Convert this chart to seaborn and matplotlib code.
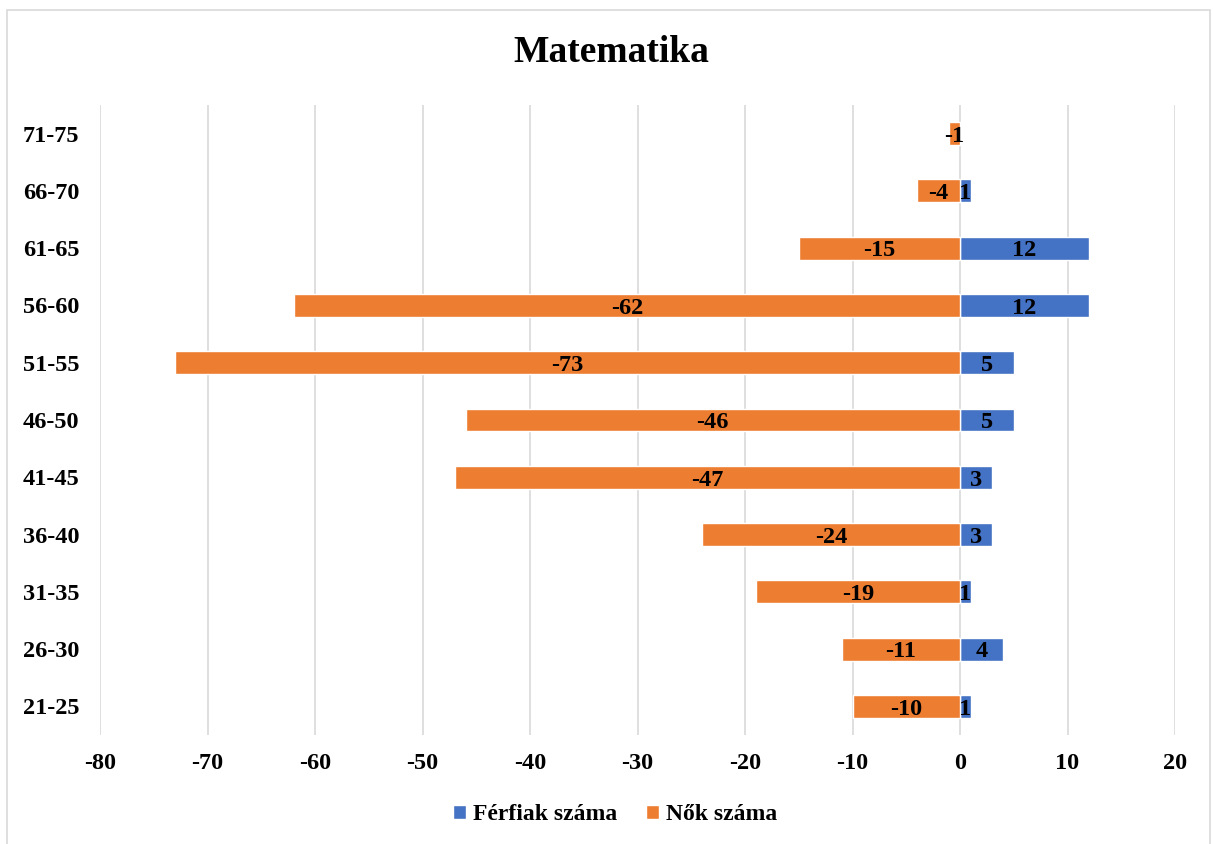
import matplotlib
matplotlib.use("Agg")
import matplotlib.pyplot as plt
from matplotlib.patches import Patch, Rectangle
import seaborn as sns
import pandas as pd

# korcsoportok alulrol felfele
korcsoport = ["21-25", "26-30", "31-35", "36-40", "41-45", "46-50",
              "51-55", "56-60", "61-65", "66-70", "71-75"]
ferfiak = [1, 4, 1, 3, 3, 5, 5, 12, 12, 1, 0]
nok = [-10, -11, -19, -24, -47, -46, -73, -62, -15, -4, -1]

series_names = ["Férfiak száma", "Nők száma"]
colors = ["#4472C4", "#ED7D31"]

df = pd.concat([
    pd.DataFrame({"kor": korcsoport, "ertek": ferfiak, "sorozat": series_names[0]}),
    pd.DataFrame({"kor": korcsoport, "ertek": nok, "sorozat": series_names[1]}),
])

sns.set_style("white")
plt.rcParams["font.family"] = ["Liberation Serif", "DejaVu Serif"]
plt.rcParams["font.weight"] = "bold"
plt.rcParams["axes.unicode_minus"] = False
plt.rcParams["text.color"] = "black"
plt.rcParams["xtick.color"] = "black"
plt.rcParams["ytick.color"] = "black"

fig = plt.figure(figsize=(12.13, 8.44), dpi=100)
ax = fig.add_axes([100 / 1213, 1 - 735 / 844, 1075 / 1213, 630 / 844])

sns.barplot(data=df, y="kor", x="ertek", hue="sorozat", order=korcsoport[::-1],
            hue_order=series_names, palette=colors, dodge=False, width=0.4,
            orient="h", saturation=1, ax=ax, legend=False, zorder=3)

for cont, vals in zip(ax.containers, [ferfiak, nok]):
    labels = [str(v) if v != 0 else "" for v in vals[::-1]]
    texts = ax.bar_label(cont, labels=labels, label_type="center", fontsize=17.5,
                         fontweight="bold", color="black")
    # Excel-szeru, kicsit lejjebb ulo feliratok
    for t in texts:
        t.xyann = (t.xyann[0], -2)

ax.set_xlim(-80, 20)
ax.set_xticks(range(-80, 21, 10))
ax.grid(axis="x", color="#D9D9D9", linewidth=1.2, zorder=0)
ax.grid(axis="y", visible=False)
for s in ax.spines.values():
    s.set_visible(False)
ax.tick_params(axis="both", length=0, labelsize=17.5, labelcolor="black")
ax.tick_params(axis="x", pad=13)
ax.tick_params(axis="y", pad=15)
for lab in ax.get_xticklabels() + ax.get_yticklabels():
    lab.set_fontweight("bold")
ax.set_xlabel("")
ax.set_ylabel("")

fig.text(0.504, 1 - 52 / 844, "Matematika", ha="center", va="center",
         fontsize=27, fontweight="bold", color="black")

handles = [Patch(facecolor=c, label=n) for c, n in zip(colors, series_names)]
fig.legend(handles=handles, loc="center", bbox_to_anchor=(0.507, 1 - 815 / 844),
           ncol=2, frameon=False, handlelength=0.55, handleheight=0.55,
           handletextpad=0.3, columnspacing=1.2,
           prop={"weight": "bold", "size": 17})

fig.patches.append(Rectangle((7 / 1213, -0.01), 1203 / 1213, 1 - 10 / 844 + 0.01,
                             transform=fig.transFigure, fill=False,
                             edgecolor="#D9D9D9", linewidth=1.2))

fig.savefig("out.png", dpi=100)
